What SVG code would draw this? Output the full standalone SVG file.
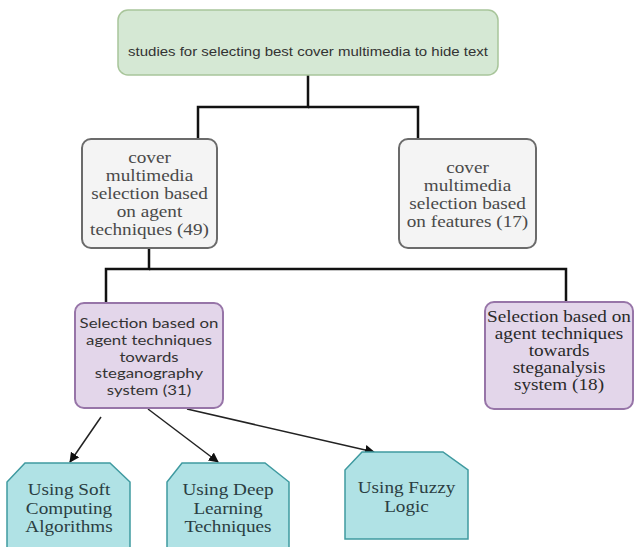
<svg xmlns="http://www.w3.org/2000/svg" width="636" height="547" viewBox="0 0 636 547">
<defs>
<marker id="ah" viewBox="0 0 10 10" refX="9" refY="5" markerWidth="10" markerHeight="10" markerUnits="userSpaceOnUse" orient="auto">
<path d="M0,0 L10,5 L0,10 Z" fill="#111"/>
</marker>
</defs>
<style>
.top{fill:#d5e8d4;stroke:#a8c59a;stroke-width:1.5}
.gray{fill:#f4f4f4;stroke:#6b6b6b;stroke-width:2}
.purple{fill:#e3d6ea;stroke:#9775a8;stroke-width:2}
.teal{fill:#b0e2e5;stroke:#3f9aa0;stroke-width:1.5}
.serif{font-family:"Liberation Serif","Times New Roman",serif;font-size:16px;text-anchor:middle}
.sans{font-family:"Liberation Sans",Arial,sans-serif;text-anchor:middle}
.lato{font-family:Lato,"Liberation Sans",sans-serif;text-anchor:middle;font-size:14px}
.tree{fill:none;stroke:#111;stroke-width:2.5}
.arr{fill:none;stroke:#222;stroke-width:1.5;marker-end:url(#ah)}
</style>
<g id="connectors">
<polyline class="tree" points="308,75 308,107 198,107 198,139"/>
<polyline class="tree" points="308,107 418,107 418,139"/>
<polyline class="tree" points="149,248 149,269 106,269 106,303"/>
<polyline class="tree" points="149,269 566,269 566,302"/>
<line class="arr" x1="101" y1="417" x2="70" y2="462"/>
<line class="arr" x1="148" y1="409" x2="218" y2="462"/>
<line class="arr" x1="187" y1="409" x2="374" y2="452"/>
</g>
<g id="n-top">
<rect class="top" x="118" y="10" width="380" height="65" rx="10"/>
<g transform="translate(308,0) scale(1.2,1)"><text class="sans" font-size="12.5" fill="#333" x="0" y="56">studies for selecting best cover multimedia to hide text</text></g>
</g>
<g id="n-agent">
<rect class="gray" x="82" y="139" width="135" height="109" rx="9"/>
<g transform="translate(149.5,0) scale(1.2,1)" fill="#4a4a4a">
<text class="serif" x="0" y="163">cover</text>
<text class="serif" x="0" y="181">multimedia</text>
<text class="serif" x="0" y="199">selection based</text>
<text class="serif" x="0" y="217">on agent</text>
<text class="serif" x="0" y="235">techniques (49)</text>
</g>
</g>
<g id="n-features">
<rect class="gray" x="399" y="139" width="137" height="109" rx="9"/>
<g transform="translate(467.5,0) scale(1.2,1)" fill="#4a4a4a">
<text class="serif" x="0" y="173">cover</text>
<text class="serif" x="0" y="191">multimedia</text>
<text class="serif" x="0" y="209">selection based</text>
<text class="serif" x="0" y="227">on features (17)</text>
</g>
</g>
<g id="n-stego">
<rect class="purple" x="75" y="303" width="148" height="105" rx="9"/>
<g transform="translate(149,0) scale(1.2,1)" fill="#333">
<text class="lato" x="0" y="328">Selection based on</text>
<text class="lato" x="0" y="345">agent techniques</text>
<text class="lato" x="0" y="362">towards</text>
<text class="lato" x="0" y="378">steganography</text>
<text class="lato" x="0" y="395">system (31)</text>
</g>
</g>
<g id="n-steganalysis">
<rect class="purple" x="485" y="302" width="148" height="107" rx="9"/>
<g transform="translate(559,0) scale(1.2,1)" fill="#2a2a2a">
<text class="serif" x="0" y="322">Selection based on</text>
<text class="serif" x="0" y="339">agent techniques</text>
<text class="serif" x="0" y="356">towards</text>
<text class="serif" x="0" y="373">steganalysis</text>
<text class="serif" x="0" y="390">system (18)</text>
</g>
</g>
<g id="n-soft">
<polygon class="teal" points="25,463 110,463 130,482 130,552 7,552 7,482"/>
<g transform="translate(69,0) scale(1.2,1)" fill="#2b3e42">
<text class="serif" x="0" y="495">Using Soft</text>
<text class="serif" x="0" y="514">Computing</text>
<text class="serif" x="0" y="532">Algorithms</text>
</g>
</g>
<g id="n-deep">
<polygon class="teal" points="182,463 265,463 289,482 289,552 167,552 167,482"/>
<g transform="translate(228,0) scale(1.2,1)" fill="#2b3e42">
<text class="serif" x="0" y="495">Using Deep</text>
<text class="serif" x="0" y="514">Learning</text>
<text class="serif" x="0" y="532">Techniques</text>
</g>
</g>
<g id="n-fuzzy">
<polygon class="teal" points="362,452 443,452 468,470 468,539 345,539 345,470"/>
<g transform="translate(406.5,0) scale(1.2,1)" fill="#2b3e42">
<text class="serif" x="0" y="493">Using Fuzzy</text>
<text class="serif" x="0" y="512">Logic</text>
</g>
</g>
</svg>
